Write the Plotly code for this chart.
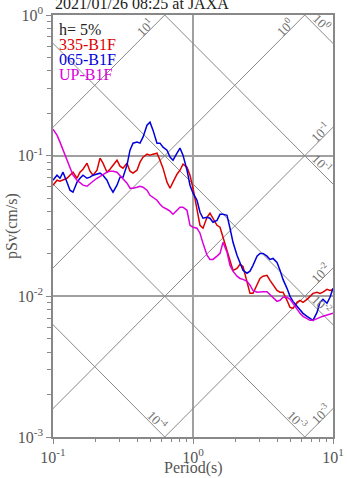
import math
import plotly.graph_objects as go

# ---------------- data ----------------
period = [0.1000, 0.1068, 0.1122, 0.1179, 0.1259, 0.1322, 0.1389, 0.1484, 0.1559, 0.1638,
          0.1749, 0.1838, 0.1931, 0.2062, 0.2167, 0.2276, 0.2430, 0.2553, 0.2683, 0.2865,
          0.3010, 0.3162, 0.3377, 0.3548, 0.3728, 0.3981, 0.4182, 0.4394, 0.4692, 0.4930,
          0.5179, 0.5531, 0.5811, 0.6105, 0.6520, 0.6850, 0.7197, 0.7686, 0.8075, 0.8483,
          0.9060, 0.9519,
          1.000, 1.068, 1.122, 1.179, 1.259, 1.322, 1.389, 1.484, 1.559, 1.638,
          1.749, 1.838, 1.931, 2.062, 2.167, 2.276, 2.430, 2.553, 2.683, 2.865,
          3.010, 3.162, 3.377, 3.548, 3.728, 3.981, 4.182, 4.394, 4.692, 4.930,
          5.179, 5.531, 5.811, 6.105, 6.520, 6.850, 7.197, 7.686, 8.075, 8.483,
          9.060, 9.519, 10.00]

sv_335 = [0.0617, 0.0669, 0.0658, 0.0669, 0.0691, 0.0726, 0.0763, 0.0691, 0.0763, 0.0801,
          0.0884, 0.0776, 0.0726, 0.0788, 0.0960, 0.0884, 0.0763, 0.0801, 0.0856, 0.0929,
          0.0842, 0.0815, 0.0884, 0.0776, 0.0751, 0.0788, 0.0899, 0.0976, 0.1025, 0.1008,
          0.1025, 0.1042, 0.0929, 0.0815, 0.0648, 0.0587, 0.0648, 0.0738, 0.0788, 0.0870,
          0.0828, 0.0726,
          0.0587, 0.0409, 0.0320, 0.0305, 0.0365, 0.0390, 0.0359, 0.0320, 0.0310, 0.0263,
          0.0212, 0.0174, 0.0153, 0.0158, 0.0169, 0.0163, 0.0130, 0.0105, 0.0105, 0.0122,
          0.0134, 0.0139, 0.0141, 0.0130, 0.0122, 0.0110, 0.0107, 0.0107, 0.00937, 0.00835,
          0.00822, 0.00906, 0.00937, 0.00906, 0.00952, 0.0100, 0.0105, 0.0107, 0.0105, 0.0107,
          0.0112, 0.0110, 0.0112]

sv_065 = [0.0669, 0.0726, 0.0691, 0.0763, 0.0648, 0.0568, 0.0550, 0.0648, 0.0691, 0.0726,
          0.0691, 0.0703, 0.0726, 0.0738, 0.0751, 0.0726, 0.0669, 0.0597, 0.0550, 0.0617,
          0.0703, 0.0703, 0.0856, 0.1094, 0.1227, 0.1248, 0.1227, 0.1354, 0.1648, 0.1731,
          0.1519, 0.1227, 0.1227, 0.1149, 0.1094, 0.0976, 0.0929, 0.1042, 0.1131, 0.1008,
          0.0788, 0.0617,
          0.0541, 0.0482, 0.0396, 0.0359, 0.0365, 0.0359, 0.0336, 0.0347, 0.0383, 0.0383,
          0.0377, 0.0305, 0.0242, 0.0196, 0.0172, 0.0153, 0.0146, 0.0151, 0.0166, 0.0193,
          0.0202, 0.0202, 0.0193, 0.0183, 0.0186, 0.0174, 0.0153, 0.0132, 0.0114, 0.0100,
          0.00921, 0.00849, 0.00795, 0.00757, 0.00721, 0.00697, 0.00675, 0.00769, 0.00906, 0.00952,
          0.00892, 0.00984, 0.0114]

sv_up = [0.1544, 0.1399, 0.1248, 0.1094, 0.0929, 0.0815, 0.0726, 0.0669, 0.0637, 0.0617,
         0.0606, 0.0627, 0.0658, 0.0691, 0.0715, 0.0738, 0.0763, 0.0776, 0.0776, 0.0763,
         0.0726, 0.0691, 0.0637, 0.0587, 0.0587, 0.0597, 0.0606, 0.0597, 0.0568, 0.0523,
         0.0507, 0.0482, 0.0452, 0.0430, 0.0416, 0.0403, 0.0383, 0.0409, 0.0430, 0.0430,
         0.0409, 0.0320,
         0.0310, 0.0305, 0.0281, 0.0238, 0.0196, 0.0183, 0.0183, 0.0193, 0.0202, 0.0242,
         0.0206, 0.0166, 0.0151, 0.0139, 0.0134, 0.0132, 0.0128, 0.0120, 0.0110, 0.0107,
         0.0108, 0.0108, 0.0108, 0.0103, 0.00984, 0.00921, 0.00937, 0.00984, 0.00984, 0.00952,
         0.00892, 0.00808, 0.00757, 0.00721, 0.00697, 0.00675, 0.00675, 0.00697, 0.00709, 0.00721,
         0.00732, 0.00745, 0.00757]

series_names = ["335-B1F", "065-B1F", "UP-B1F"]
series_colors = ["#dc0000", "#0000dc", "#dc00dc"]

# tripartite reference levels
accel_levels = [10, 1, 0.1, 0.01, 0.001]          # cm/s^2
disp_levels = [1, 0.1, 0.01, 0.001, 0.0001]       # cm
accel_labels = ["10<sup>1</sup>", "10<sup>0</sup>", "10<sup>-1</sup>", "10<sup>-2</sup>", "10<sup>-3</sup>"]
disp_labels = ["10<sup>0</sup>", "10<sup>-1</sup>", "10<sup>-2</sup>", "10<sup>-3</sup>", "10<sup>-4</sup>"]

x_tickvals = [0.1, 1, 10]
x_ticktext = ["10<sup>-1</sup>", "10<sup>0</sup>", "10<sup>1</sup>"]
y_tickvals = [0.001, 0.01, 0.1, 1]
y_ticktext = ["10<sup>-3</sup>", "10<sup>-2</sup>", "10<sup>-1</sup>", "10<sup>0</sup>"]
x_minor = [m * d for d in (0.1, 1) for m in range(2, 10)]
y_minor = [m * d for d in (0.001, 0.01, 0.1) for m in range(2, 10)]

title_text = "2021/01/26 08:25 at JAXA"
damping_text = "h= 5%"

# ---------------- figure ----------------
SERIF = "Liberation Serif, Times New Roman, serif"
TWO_PI = 2 * math.pi
T_EXT = [0.05, 20.0]

fig = go.Figure()

for a in accel_levels:
    fig.add_trace(go.Scatter(x=T_EXT, y=[a * t / TWO_PI for t in T_EXT], mode="lines",
                             line=dict(color="#888888", width=1), hoverinfo="skip", showlegend=False))
for d in disp_levels:
    fig.add_trace(go.Scatter(x=T_EXT, y=[TWO_PI * d / t for t in T_EXT], mode="lines",
                             line=dict(color="#888888", width=1), hoverinfo="skip", showlegend=False))

for name, col, sv in zip(series_names, series_colors, [sv_335, sv_065, sv_up]):
    fig.add_trace(go.Scatter(x=period, y=sv, mode="lines", name=name,
                             line=dict(color=col, width=1.5), showlegend=False))

PX = 1 / 140.0  # decades per pixel (layout helper)
LABEL_FONT = dict(family=SERIF, size=13, color="#707070")
ann = []
# acceleration labels (rising lines)
for a, lab in zip(accel_levels, accel_labels):
    t_top = TWO_PI / a
    if t_top <= 10:
        t = t_top * 10 ** (-16 * PX)
    else:
        t = 10 ** (1 - 9 * PX)
    sv = a * t / TWO_PI
    ann.append(dict(x=math.log10(t), y=math.log10(sv), text=lab, showarrow=False, textangle=-45,
                    xshift=-4, yshift=4, font=LABEL_FONT))
# displacement labels (falling lines)
for d, lab in zip(disp_levels, disp_labels):
    t_bot = TWO_PI * d / 0.001
    if t_bot >= 10:
        t = 10 ** (1 - 16 * PX)
    else:
        t = t_bot * 10 ** (-12 * PX)
    sv = TWO_PI * d / t
    ann.append(dict(x=math.log10(t), y=math.log10(sv), text=lab, showarrow=False, textangle=45,
                    xshift=5, yshift=5, font=LABEL_FONT))

# title & legend text
ann.append(dict(xref="paper", yref="paper", x=0, y=1, xanchor="left", yanchor="bottom", yshift=1,
                text=title_text, showarrow=False, font=dict(family=SERIF, size=16, color="#222222")))
legend_items = [(damping_text, "#222222")] + list(zip(series_names, series_colors))
for i, (txt, col) in enumerate(legend_items):
    ann.append(dict(xref="paper", yref="paper", x=0, y=1, xanchor="left", yanchor="middle",
                    xshift=4, yshift=-14 - 15.3 * i, text=txt, showarrow=False,
                    font=dict(family=SERIF, size=16, color=col)))
# axis titles
ann.append(dict(xref="paper", yref="paper", x=0.5, y=0, yanchor="middle", yshift=-31,
                text="Period(s)", showarrow=False, font=dict(family=SERIF, size=16, color="#555555")))
ann.append(dict(xref="paper", yref="paper", x=0, y=0.5, xanchor="center", xshift=-41, textangle=-90,
                text="pSv(cm/s)", showarrow=False, font=dict(family=SERIF, size=16, color="#555555")))

axis_common = dict(type="log", showline=True, mirror=True, linecolor="#888888", linewidth=1.5,
                   showgrid=True, gridcolor="#a0a0a0", gridwidth=1.5, zeroline=False,
                   ticks="outside", ticklen=5, tickcolor="#888888", automargin=False,
                   tickfont=dict(family=SERIF, size=16, color="#555555"))

fig.update_xaxes(range=[-1, 1], tickmode="array", tickvals=x_tickvals, ticktext=x_ticktext,
                 minor=dict(tickvals=x_minor, ticks="outside", ticklen=3, tickcolor="#888888", showgrid=False),
                 **axis_common)
fig.update_yaxes(range=[-3, 0], tickmode="array", tickvals=y_tickvals, ticktext=y_ticktext,
                 minor=dict(tickvals=y_minor, ticks="outside", ticklen=4, tickcolor="#888888", showgrid=False),
                 **axis_common)

fig.update_layout(width=347, height=478, margin=dict(l=53, r=14, t=15, b=41, autoexpand=False),
                  paper_bgcolor="white", plot_bgcolor="white", showlegend=False,
                  annotations=ann)

fig.write_html("out.html", config={"displayModeBar": False},
               post_script="document.body.style.margin='0px';")
